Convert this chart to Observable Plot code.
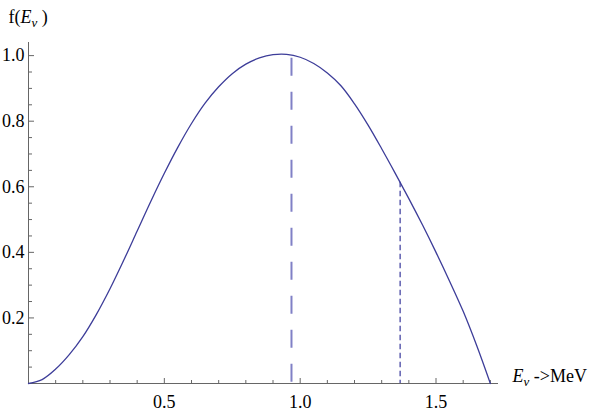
<!DOCTYPE html>
<html>
<head>
<meta charset="utf-8">
<script src="https://cdn.jsdelivr.net/npm/d3@7"></script>
<script src="https://cdn.jsdelivr.net/npm/@observablehq/plot@0.6"></script>
<style>
  html, body { margin: 0; padding: 0; background: #fff; }
  #chart { width: 595px; height: 415px; }
  #chart svg, #chart svg text, #chart svg g { font-family: "Liberation Serif", "Times New Roman", serif !important; }
</style>
</head>
<body>
<div id="chart"></div>
<script>
// Neutrino energy E (MeV) and spectrum f(E)
const energy = [0, 0.05, 0.1, 0.15, 0.2, 0.25, 0.3, 0.35, 0.4, 0.45, 0.5, 0.55, 0.6, 0.65, 0.7, 0.75, 0.8, 0.85, 0.9, 0.95, 1.0, 1.05, 1.1, 1.15, 1.2, 1.25, 1.3, 1.35, 1.4, 1.45, 1.5, 1.55, 1.6, 1.65, 1.7];
const spectrum = [0, 0.012, 0.044, 0.088, 0.143, 0.211, 0.289, 0.375, 0.465, 0.555, 0.641, 0.721, 0.793, 0.855, 0.905, 0.945, 0.974, 0.993, 1.003, 1.004, 0.995, 0.976, 0.947, 0.908, 0.853, 0.788, 0.716, 0.641, 0.564, 0.484, 0.40, 0.312, 0.22, 0.115, 0];

// Marked energies (dashed verticals) and spectrum value where they meet the curve
const markerEnergy = [0.968, 1.368];
const markerValue = [0.992, 0.614];

// Axis ticks
const xMajorTicks = [0.5, 1.0, 1.5];
const xMinorTicks = [0.1, 0.2, 0.3, 0.4, 0.6, 0.7, 0.8, 0.9, 1.1, 1.2, 1.3, 1.4, 1.6, 1.7];
const yMajorTicks = [0.2, 0.4, 0.6, 0.8, 1.0];
const yMinorTicks = [0.05, 0.1, 0.15, 0.25, 0.3, 0.35, 0.45, 0.5, 0.55, 0.65, 0.7, 0.75, 0.85, 0.9, 0.95];

// Axis label texts
const yLabelParts = [{t: "f("}, {t: "E", it: true}, {t: "ν", it: true, sub: true}, {t: " )"}];
const xLabelParts = [{t: "E", it: true}, {t: "ν", it: true, sub: true}, {t: " ->MeV"}];

const curveData = energy.map((e, i) => ({e, f: spectrum[i]}));
const markers = markerEnergy.map((e, i) => ({e, f: markerValue[i]}));
const yLabelText = yLabelParts.map(p => p.t).join("");
const xLabelText = xLabelParts.map(p => p.t).join("");

const serif = "'Liberation Serif', 'Times New Roman', serif";
const axisColor = "#666";
const lineColor = "#3d3d99";
const noText = () => "";

const chart = Plot.plot({
  width: 595,
  height: 415,
  marginLeft: 28,
  marginRight: 97,
  marginTop: 42,
  marginBottom: 32,
  x: {domain: [0, 1.73]},
  y: {domain: [0, 1.04]},
  style: `font-family: ${serif}; font-size: 18px; color: #000; background: #fff; overflow: visible;`,
  marks: [
    // axis lines
    Plot.ruleY([0], {stroke: axisColor, strokeWidth: 1}),
    Plot.ruleX([0], {stroke: axisColor, strokeWidth: 1}),
    // inward ticks on x axis
    Plot.axisX(xMajorTicks, {anchor: "top", frameAnchor: "bottom", tickSize: 6, tickFormat: noText, label: null, stroke: axisColor}),
    Plot.axisX(xMinorTicks, {anchor: "top", frameAnchor: "bottom", tickSize: 4, tickFormat: noText, label: null, stroke: axisColor}),
    // inward ticks on y axis
    Plot.axisY(yMajorTicks, {anchor: "right", frameAnchor: "left", tickSize: 5, tickFormat: noText, label: null, stroke: axisColor}),
    Plot.axisY(yMinorTicks, {anchor: "right", frameAnchor: "left", tickSize: 3, tickFormat: noText, label: null, stroke: axisColor}),
    // tick labels
    Plot.axisX(xMajorTicks, {anchor: "bottom", tickSize: 0, tickPadding: 12, tickFormat: d3.format(".1f"), label: null, fontSize: 18, fontFamily: serif, fontVariant: "normal"}),
    Plot.axisY(yMajorTicks, {anchor: "left", tickSize: 0, tickPadding: 4, tickFormat: d3.format(".1f"), label: null, fontSize: 18, fontFamily: serif, fontVariant: "normal"}),
    // dashed marker lines
    Plot.ruleX([markers[0]], {x: "e", y1: "f", y2: 0, stroke: "#8080c6", strokeWidth: 2, strokeDasharray: "18,16"}),
    Plot.ruleX([markers[1]], {x: "e", y1: "f", y2: 0, stroke: "#5f5fb0", strokeWidth: 1.5, strokeDasharray: "5.5,3.5"}),
    // spectrum curve
    Plot.line(curveData, {x: "e", y: "f", stroke: lineColor, strokeWidth: 1.3, curve: "catmull-rom"}),
    // axis titles
    Plot.text([yLabelText], {frameAnchor: "top-left", text: d => d, textAnchor: "start", lineAnchor: "bottom", dx: -20, dy: -20, fontSize: 18, fontFamily: serif}),
    Plot.text([xLabelText], {frameAnchor: "bottom-right", text: d => d, textAnchor: "start", lineAnchor: "bottom", dx: 14, dy: -2, fontSize: 18, fontFamily: serif})
  ]
});

function richText(content, parts) {
  const t = d3.select(chart).selectAll("text").filter(function() { return this.textContent === content; });
  t.text(null);
  let shifted = false;
  for (const p of parts) {
    const s = t.append("tspan").text(p.t);
    if (p.it) s.attr("font-style", "italic");
    if (p.sub) { s.attr("font-size", "13px").attr("dy", "4"); shifted = true; }
    else if (shifted) { s.attr("dy", "-4"); shifted = false; }
  }
}
richText(yLabelText, yLabelParts);
richText(xLabelText, xLabelParts);

document.getElementById("chart").append(chart);
</script>
</body>
</html>
